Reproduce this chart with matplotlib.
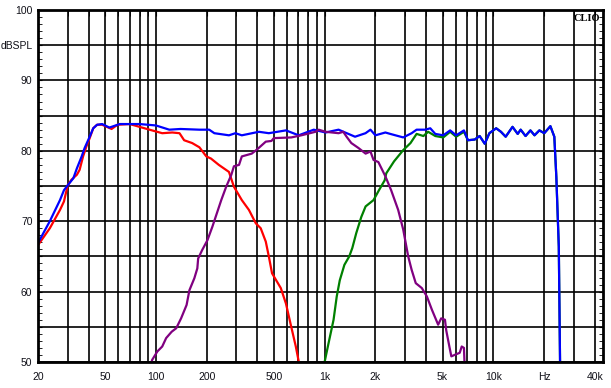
import matplotlib
matplotlib.use('Agg')
import matplotlib.pyplot as plt
from matplotlib.ticker import MultipleLocator, FixedLocator, NullFormatter

# total response (blue)
blue_f = [20, 23.5, 27, 28.5, 30, 32.4, 34, 36.3, 37.8, 40.5, 42.5, 44.8, 48, 53, 61, 80, 100,
          120, 140, 181, 207, 222, 271, 296, 323, 408, 467, 590, 702, 862, 1013, 1210,
          1515, 1748, 1870, 2000, 2292, 2450, 2925, 3280, 3510, 3950, 4230, 4530, 5050,
          5550, 6020, 6700, 7075, 7760, 8300, 8900, 9480, 10400, 11100, 11840, 13000,
          13950, 14530, 15530, 16600, 17550, 18760, 20050, 21800, 23000, 23640, 24450, 24900]
blue_db = [66.9, 70.0, 73.0, 74.4, 75.1, 76.1, 77.5, 79.2, 80.4, 82.0, 83.2, 83.7, 83.8, 83.3, 83.8, 83.8, 83.6,
           83.0, 83.1, 83.0, 83.0, 82.5, 82.2, 82.5, 82.2, 82.7, 82.5, 82.9, 82.2, 83.0, 82.6, 83.0,
           82.0, 82.5, 83.0, 82.2, 82.6, 82.4, 81.9, 82.5, 83.0, 83.0, 83.2, 82.4, 82.2,
           82.9, 82.2, 82.9, 81.5, 81.6, 82.1, 81.0, 82.5, 83.2, 82.7, 82.0, 83.4,
           82.4, 83.0, 82.1, 82.9, 82.2, 82.9, 82.5, 83.5, 82.0, 76.3, 66.4, 49.0]

# woofer (red)
red_f = [20, 23.5, 27, 28.5, 30, 31.6, 34, 35.3, 37, 38.7, 40.5, 42.5, 44.8, 48, 54.6, 59.2, 70,
         80, 91.6, 109, 125, 138, 147, 164, 181, 199, 212, 236, 271, 290, 323, 356, 391,
         418, 448, 467, 488, 550, 590, 630, 675, 710]
red_db = [66.6, 69.0, 71.6, 72.8, 75.1, 75.9, 76.6, 77.3, 79.2, 80.6, 81.8, 83.2, 83.7, 83.7, 83.1, 83.7, 83.8,
          83.4, 83.0, 82.5, 82.6, 82.5, 81.5, 81.1, 80.5, 79.2, 78.9, 78.0, 77.0, 74.9, 73.0, 71.6, 69.7,
          69.0, 67.1, 65.0, 62.6, 60.5, 58.3, 55.3, 52.2, 49.5]

# midrange (purple)
mid_f = [93, 95, 102, 109, 115, 124, 132, 141, 152, 158, 169, 176, 178, 188, 202, 216, 244,
         261, 280, 290, 311, 323, 370, 398, 448, 484, 500, 635, 728, 883, 922, 1013, 1210,
         1290, 1350, 1440, 1587, 1750, 1870, 1950, 2083, 2290, 2480, 2730, 2925, 3130,
         3280, 3470, 3770, 4040, 4330, 4580, 4710, 4910, 5170, 5260, 5490, 5640, 6020,
         6320, 6500, 6700, 6760]
mid_db = [49.5, 50.3, 51.5, 52.2, 53.4, 54.3, 54.8, 56.2, 58.1, 60.2, 61.9, 63.3, 64.7, 65.9, 67.3, 69.2, 73.0,
          74.9, 76.6, 77.8, 78.0, 79.2, 79.6, 80.2, 81.3, 81.4, 81.8, 81.9, 82.2, 82.7, 83.0, 82.7, 82.5,
          82.7, 82.0, 81.1, 80.4, 79.6, 79.9, 78.7, 78.4, 76.4, 74.4, 71.6, 68.8, 65.0,
          63.1, 61.2, 60.5, 59.3, 57.4, 56.0, 55.3, 56.2, 56.0, 54.5, 52.2, 50.8, 51.1,
          51.3, 52.2, 52.0, 49.5]

# tweeter (green)
tw_f = [990, 1000, 1056, 1130, 1180, 1230, 1310, 1400, 1460, 1540, 1650, 1750, 1950, 2100,
        2270, 2320, 2580, 2925, 3230, 3510, 3850, 4110, 4530, 5050, 5550, 6020, 6700,
        7075, 7760, 8300, 8900, 9480, 10400, 11100, 11840, 13000, 13950, 14530, 15530,
        16600, 17550, 18760, 20050, 21800, 23000, 23640, 24450, 24900]
tw_db = [49.5, 50.0, 52.7, 56.0, 59.3, 61.6, 63.8, 65.0, 66.2, 68.3, 70.6, 72.1, 73.0, 74.4,
         75.8, 76.8, 78.5, 80.1, 81.1, 82.4, 82.1, 82.7, 82.1, 81.9, 82.7, 82.0, 82.7,
         81.5, 81.6, 82.1, 81.0, 82.5, 83.2, 82.7, 82.0, 83.4, 82.4, 83.0, 82.1, 82.9,
         82.2, 82.9, 82.5, 83.5, 82.0, 76.3, 66.4, 49.0]

x_grid = [20, 30, 40, 50, 60, 70, 80, 90, 100, 200, 300, 400, 500, 600, 700, 800, 900,
          1000, 2000, 3000, 4000, 5000, 6000, 7000, 8000, 9000, 10000, 20000, 30000, 40000]
x_major = [20, 50, 100, 200, 500, 1000, 2000, 5000, 10000, 20000, 40000]
x_labels = ['20', '50', '100', '200', '500', '1k', '2k', '5k', '10k', 'Hz', '40k']
y_major = [50, 55, 60, 65, 70, 75, 80, 85, 90, 95, 100]
y_labels = ['50', '', '60', '', '70', '', '80', '', '90', 'dBSPL', '100']

plt.rcParams['font.family'] = ['Liberation Sans', 'DejaVu Sans']

fig = plt.figure(figsize=(6.11, 3.88), dpi=100)
ax = fig.add_axes([38 / 611, 26 / 388, 565 / 611, 352 / 388])

ax.set_xscale('log')
ax.set_xlim(20, 44700)
ax.set_ylim(50, 100)

ax.xaxis.set_major_locator(FixedLocator(x_major))
ax.xaxis.set_minor_locator(FixedLocator([v for v in x_grid if v not in x_major]))
ax.xaxis.set_minor_formatter(NullFormatter())
ax.set_xticklabels(x_labels)
ax.set_yticks(y_major)
ax.set_yticklabels(y_labels)
ax.yaxis.set_minor_locator(MultipleLocator(1))

ax.grid(True, which='both', axis='x', color='black', linewidth=1.2)
ax.grid(True, which='major', axis='y', color='black', linewidth=1.2)
ax.set_axisbelow(True)

ax.tick_params(axis='x', which='both', direction='in', length=4, top=True, bottom=False,
               labelsize=7.5, pad=7, colors='black', labelcolor='#101018')
ax.tick_params(axis='y', which='both', direction='in', length=3, left=True, right=True,
               labelsize=7.5, pad=4, colors='black', labelcolor='#101018')
for s in ax.spines.values():
    s.set_linewidth(2.0)

lw = 1.6
ax.plot(red_f, red_db, color='#ff0000', linewidth=lw)
ax.plot(tw_f, tw_db, color='#008000', linewidth=lw)
ax.plot(blue_f, blue_db, color='#0000ff', linewidth=lw)
ax.plot(mid_f, mid_db, color='#800080', linewidth=lw)

ax.text(0.995, 0.99, 'CLIO', transform=ax.transAxes, ha='right', va='top',
        fontsize=7.5, fontweight='bold', family='Liberation Serif')

fig.savefig('out.png', dpi=100, facecolor='white')
